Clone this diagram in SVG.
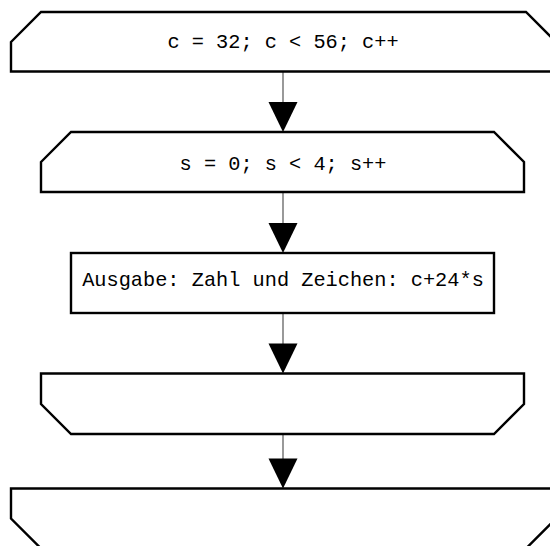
<svg xmlns="http://www.w3.org/2000/svg" width="550" height="546" viewBox="0 0 550 546">
  <defs>
    <style>
      .node { fill: #ffffff; stroke: #000000; stroke-width: 2.4; stroke-linejoin: miter; }
      .conn { stroke: #808080; stroke-width: 1.6; fill: none; }
      .head { fill: #000000; stroke: none; }
      .lbl { font-family: "Courier New", "Liberation Mono", monospace; font-size: 20.3px; fill: #000000; text-anchor: middle; }
    </style>
  </defs>
  <rect x="0" y="0" width="550" height="546" fill="#ffffff"/>
  <g id="connectors">
    <line class="conn" x1="283" y1="72" x2="283" y2="104"/>
    <polygon class="head" points="268.5,102 297.5,102 283,132"/>
    <line class="conn" x1="283" y1="192" x2="283" y2="224"/>
    <polygon class="head" points="268.5,223 297.5,223 283,253"/>
    <line class="conn" x1="283" y1="313" x2="283" y2="345"/>
    <polygon class="head" points="268.5,343.5 297.5,343.5 283,373.5"/>
    <line class="conn" x1="283" y1="434" x2="283" y2="460"/>
    <polygon class="head" points="268.5,458.5 297.5,458.5 283,488.5"/>
  </g>
  <g id="node-outer-loop">
    <polygon class="node" points="11,42 41,12 526,12 556,42 556,71.5 11,71.5"/>
    <text class="lbl" x="283" y="48">c = 32; c &lt; 56; c++</text>
  </g>
  <g id="node-inner-loop">
    <polygon class="node" points="41,162 71,132 494,132 524,162 524,192 41,192"/>
    <text class="lbl" x="283" y="170">s = 0; s &lt; 4; s++</text>
  </g>
  <g id="node-output">
    <rect class="node" x="71" y="253" width="423" height="60"/>
    <text class="lbl" x="283" y="286">Ausgabe: Zahl und Zeichen: c+24*s</text>
  </g>
  <g id="node-inner-loop-end">
    <polygon class="node" points="41,373.5 524,373.5 524,404 494,434 71,434 41,404"/>
  </g>
  <g id="node-outer-loop-end">
    <polygon class="node" points="11,488.5 556,488.5 556,518.5 526,548.5 41,548.5 11,518.5"/>
  </g>
</svg>
